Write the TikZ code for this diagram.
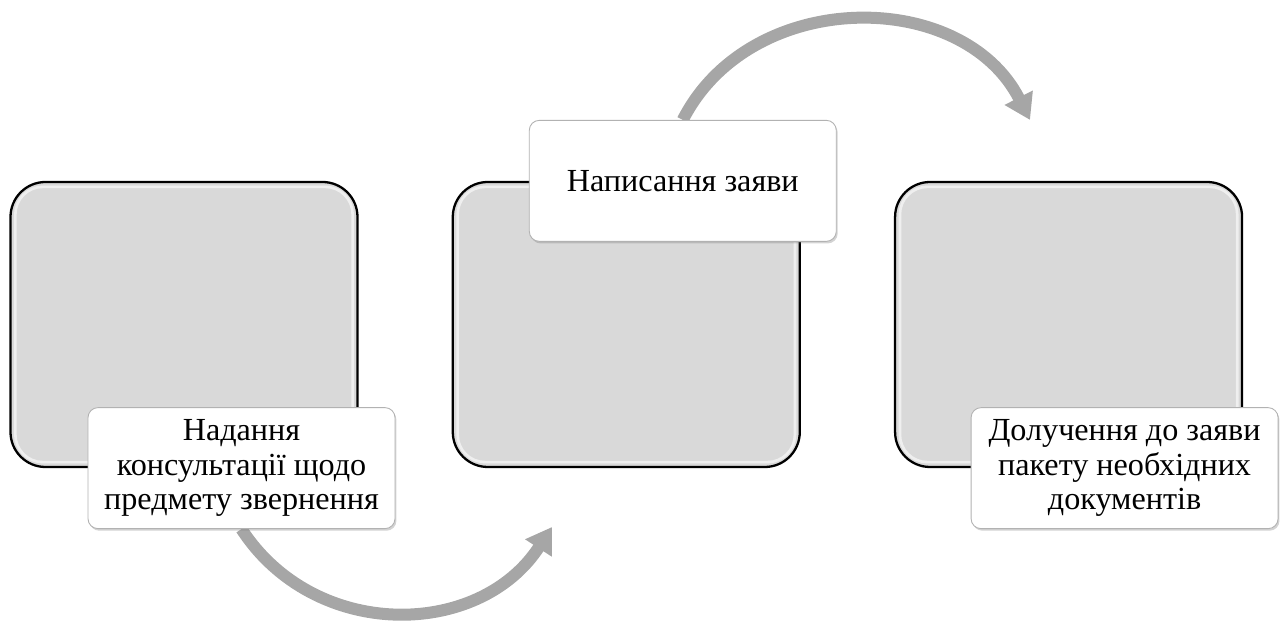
\documentclass[tikz,border=0pt]{standalone}
\usepackage{fontspec}
\setmainfont{Liberation Serif}
\newfontfamily\boxfont{Liberation Serif}
\usepackage{tikz}
\usetikzlibrary{positioning,shadows,arrows.meta,backgrounds}
\definecolor{boxgray}{HTML}{D9D9D9}
\definecolor{arrowgray}{HTML}{A6A6A6}

\begin{document}
\begin{tikzpicture}[
  bigbox/.style={draw=black,line width=1.3pt,fill=boxgray,rounded corners=0.7cm,minimum width=6.94cm,minimum height=5.7cm,inner sep=0pt},
  textbox/.style={draw=black!30,line width=0.5pt,fill=white,rounded corners=0.2cm,minimum width=6.14cm,minimum height=2.42cm,align=center,inner sep=2pt,font=\boxfont\fontsize{18.3}{19.5}\selectfont,drop shadow={shadow xshift=0.8pt,shadow yshift=-1.2pt,opacity=0.35}},
  flow/.style={arrowgray,line width=0.24cm,-{Triangle[width=0.6cm,length=0.5cm]}}]
\useasboundingbox (0,0) rectangle (25.64,12.42);
\node[bigbox] (b1) at (3.68,5.93) {};
\node[bigbox,right=1.86cm of b1] (b2) {};
\node[bigbox,right=1.86cm of b2] (b3) {};
\foreach \b in {b1,b2,b3}
  \draw[white,line width=1.5pt,opacity=0.6,rounded corners=0.55cm] ([shift={(0.12,-0.12)}]\b.north west) rectangle ([shift={(-0.12,0.12)}]\b.south east);
\node[textbox] (t1) at ([xshift=1.15cm]b1.south) {Надання\\консультації щодо\\предмету звернення};
\node[textbox] (t2) at ([xshift=1.13cm]b2.north) {Написання заяви};
\node[textbox] (t3) at ([xshift=1.12cm]b3.south) {Долучення до заяви\\пакету необхідних\\документів};
\coordinate (e1) at (11.04,1.88);
\coordinate (e2) at (20.6,10.02);
\begin{scope}[on background layer]
\draw[flow] (t1.south) to[out=303,in=237,looseness=1.1] (e1);
\draw[flow] (t2.north) to[out=63,in=117,looseness=1.1] (e2);
\end{scope}
\end{tikzpicture}
\end{document}
